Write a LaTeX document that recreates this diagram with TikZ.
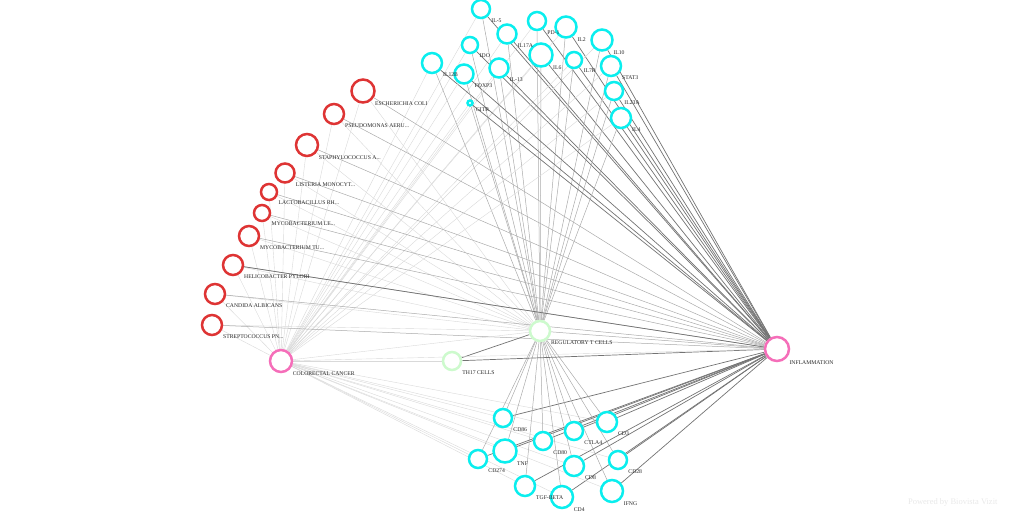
\documentclass[tikz,border=0pt]{standalone}
\usepackage{fontspec}
\setmainfont{Liberation Serif}
\pgfdeclarelayer{bg}
\pgfdeclarelayer{fg}
\pgfsetlayers{bg,main,fg}
\definecolor{cyn}{RGB}{10,238,238}
\definecolor{rd}{RGB}{222,52,52}
\definecolor{pnk}{RGB}{245,110,185}
\definecolor{grn}{RGB}{205,250,205}
\tikzset{
  nd/.style={circle, line width=2.5pt, fill=white, inner sep=0pt, minimum size=#1},
  cnode/.style={nd=#1, draw=cyn},
  rnode/.style={nd=#1, draw=rd},
  pnode/.style={nd=#1, draw=pnk},
  gnode/.style={nd=#1, draw=grn},
  lab/.style={font=\fontsize{5.7}{6}\selectfont, text=black!85, inner xsep=3pt, inner ysep=2pt, anchor=north west},
  edark/.style={draw=black!55, line width=0.7pt},
  emid/.style={draw=black!33, line width=0.5pt},
  elight/.style={draw=black!15, line width=0.4pt},
}
\newcommand\nd[5]{\node[#1=#5pt] (#2) at (#3,#4) {};}
\newcommand\elp{...}
\begin{document}
\begin{tikzpicture}[x=1pt,y=-1pt]
\useasboundingbox (0,0) rectangle (1024,512);
% hubs
\nd{pnode}{crc}{281}{361}{22}
\nd{pnode}{infl}{777}{349}{24}
\nd{gnode}{treg}{540}{331}{20}
\nd{gnode}{th17}{452}{361}{18}
% top cyan
\nd{cnode}{il5}{481}{9}{18}
\nd{cnode}{il17a}{507}{34}{19}
\nd{cnode}{pd1}{537}{21}{18}
\nd{cnode}{il2}{566}{27}{21}
\nd{cnode}{il10}{602}{40}{21}
\nd{cnode}{ido}{470}{45}{16}
\nd{cnode}{il6}{541}{55}{23}
\nd{cnode}{il7r}{574}{60}{16}
\nd{cnode}{stat3}{611}{66}{20}
\nd{cnode}{il12b}{432}{63}{20}
\nd{cnode}{foxp3}{464}{74}{19}
\nd{cnode}{il13}{499}{68}{19}
\nd{cnode}{il23a}{614}{91}{18}
\nd{cnode}{gitr}{470}{103}{5}
\nd{cnode}{il4}{621}{118}{20}
% red
\nd{rnode}{ecoli}{363}{91}{23}
\nd{rnode}{pseu}{334}{114}{20}
\nd{rnode}{staph}{307}{145}{22}
\nd{rnode}{list}{285}{173}{19}
\nd{rnode}{lact}{269}{192}{16}
\nd{rnode}{myle}{262}{213}{16}
\nd{rnode}{mytu}{249}{236}{20}
\nd{rnode}{heli}{233}{265}{20}
\nd{rnode}{cand}{215}{294}{20}
\nd{rnode}{strep}{212}{325}{20}
% bottom cyan
\nd{cnode}{cd86}{503}{418}{18}
\nd{cnode}{cd3}{607}{422}{20}
\nd{cnode}{ctla4}{574}{431}{18}
\nd{cnode}{cd80}{543}{441}{18}
\nd{cnode}{tnf}{505}{451}{23}
\nd{cnode}{cd274}{478}{459}{18}
\nd{cnode}{cd28}{618}{460}{18}
\nd{cnode}{cd8}{574}{466}{20}
\nd{cnode}{tgfb}{525}{486}{20}
\nd{cnode}{cd4}{562}{497}{22}
\nd{cnode}{ifng}{612}{491}{22}
\node[font=\fontsize{8.5}{9}\selectfont, text=black!9, anchor=east] (pw) at (1001,502) {Powered by Biovista Vizit};
\begin{pgfonlayer}{fg}
\foreach \n/\t in {crc/COLORECTAL CANCER, infl/INFLAMMATION, treg/REGULATORY T CELLS, th17/TH17 CELLS,
  il5/IL-5, il17a/IL17A, pd1/PD-1, il2/IL2, il10/IL10, ido/IDO, il6/IL6, il7r/IL7R, stat3/STAT3,
  il12b/IL12B, foxp3/FOXP3, il13/IL-13, il23a/IL23A, gitr/GITR, il4/IL4,
  ecoli/ESCHERICHIA COLI, pseu/PSEUDOMONAS AERU\elp, staph/STAPHYLOCOCCUS A\elp, list/LISTERIA MONOCYT\elp,
  lact/LACTOBACILLUS RH\elp, myle/MYCOBACTERIUM LE\elp, mytu/MYCOBACTERIUM TU\elp, heli/HELICOBACTER PYLORI,
  cand/CANDIDA ALBICANS, strep/STREPTOCOCCUS PN\elp,
  cd86/CD86, cd3/CD3, ctla4/CTLA4, cd80/CD80, tnf/TNF, cd274/CD274, cd28/CD28, cd8/CD8,
  tgfb/TGF-BETA, cd4/CD4, ifng/IFNG} {
  \node[lab] (\n-lab) at (\n.south east) {\t};
}
\end{pgfonlayer}
\begin{pgfonlayer}{bg}
\foreach \n in {il5,il17a,pd1,il2,il10,ido,il6,il7r,stat3,il12b,foxp3,il13,il23a,gitr,il4,
                cd86,cd3,ctla4,cd80,tnf,cd274,cd28,cd8,tgfb,cd4,ifng} {
  \draw[elight] (\n) -- (crc);
  \draw[emid] (\n) -- (treg);
  \draw[edark] (\n) -- (infl);
}
\foreach \n in {ecoli,pseu,staph,list,lact,myle,mytu,heli,cand,strep} {
  \draw[elight] (\n) -- (crc);
  \draw[elight] (\n) -- (treg);
  \draw[emid] (\n) -- (infl);
}
\draw[edark] (heli) -- (infl);
\draw[edark] (th17) -- (treg);
\draw[edark] (th17) -- (infl);
\draw[elight] (th17) -- (crc);
\draw[emid] (treg) -- (infl);
\draw[elight] (treg) -- (crc);
\draw[elight] (crc) -- (infl);
\end{pgfonlayer}
\end{tikzpicture}
\end{document}
